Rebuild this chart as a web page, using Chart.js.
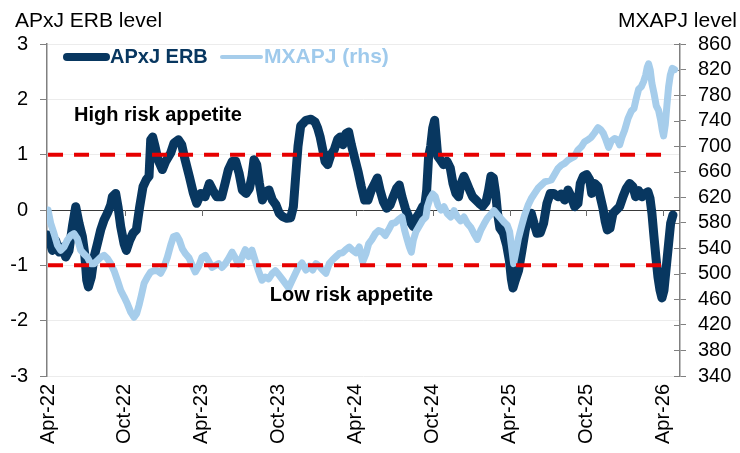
<!DOCTYPE html>
<html><head><meta charset="utf-8">
<script src="https://cdn.jsdelivr.net/npm/chart.js@4/dist/chart.umd.min.js"></script>
<style>html,body{margin:0;padding:0;background:#fff;}#wrap{width:740px;height:453px;position:relative;}</style>
</head><body><div id="wrap"><canvas id="c" width="740" height="453"></canvas></div>
<script>
// x positions are months since April 2022
const xTickLabels = ['Apr-22','Oct-22','Apr-23','Oct-23','Apr-24','Oct-24','Apr-25','Oct-25','Apr-26'];
const xTickMonths = [0,6,12,18,24,30,36,42,48];

const erbMonths = [0.00,0.34,0.60,0.86,1.12,1.38,1.64,1.90,2.16,2.42,2.68,2.86,3.02,3.15,3.38,3.59,3.85,4.11,4.37,4.63,4.89,5.02,5.28,5.46,5.67,5.93,6.11,6.37,6.63,6.89,7.15,7.41,7.67,7.88,8.01,8.16,8.35,8.58,8.92,9.18,9.57,9.83,10.17,10.43,10.69,11.02,11.34,11.60,11.92,12.25,12.59,12.85,13.16,13.55,13.81,14.07,14.38,14.64,14.90,15.16,15.45,15.71,15.91,16.07,16.28,16.49,16.72,16.98,17.24,17.50,17.79,18.04,18.30,18.62,18.93,19.14,19.32,19.50,19.71,20.12,20.51,20.83,21.03,21.22,21.43,21.61,21.82,22.07,22.33,22.60,22.80,23.01,23.24,23.45,23.66,23.92,24.18,24.44,24.70,24.96,25.22,25.48,25.69,25.90,26.16,26.42,26.68,26.93,27.19,27.40,27.61,27.87,28.13,28.33,28.50,28.70,28.96,29.22,29.40,29.54,29.69,29.85,30.01,30.16,30.27,30.40,30.60,30.86,31.12,31.38,31.59,31.82,32.03,32.23,32.44,32.68,32.89,33.12,33.38,33.64,33.91,34.17,34.37,34.55,34.74,34.92,35.07,35.25,35.52,35.78,35.99,36.14,36.27,36.45,36.71,36.97,37.23,37.49,37.70,37.91,38.14,38.40,38.66,38.92,39.18,39.44,39.78,40.04,40.30,40.56,40.82,41.08,41.34,41.52,41.76,42.02,42.25,42.41,42.64,42.90,43.11,43.29,43.47,43.63,43.84,44.07,44.33,44.59,44.85,45.11,45.37,45.63,45.84,46.07,46.33,46.59,46.80,46.96,47.11,47.27,47.42,47.58,47.74,47.89,48.05,48.23,48.41,48.57,48.75];
const erbValues = [-0.45,-0.73,-0.55,-0.76,-0.67,-0.85,-0.73,-0.30,0.06,-0.24,-0.48,-0.79,-1.27,-1.39,-1.21,-0.85,-0.61,-0.36,-0.18,-0.06,0.09,0.24,0.30,0.06,-0.30,-0.61,-0.73,-0.55,-0.42,-0.36,0.06,0.42,0.55,0.61,1.27,1.32,1.15,0.91,0.73,0.88,1.03,1.21,1.27,1.18,0.91,0.61,0.30,0.12,0.30,0.24,0.48,0.36,0.24,0.24,0.48,0.73,0.88,0.88,0.67,0.36,0.30,0.39,0.61,0.91,0.82,0.48,0.18,0.33,0.36,0.18,0.09,-0.06,-0.12,-0.15,-0.14,0.06,0.61,1.15,1.52,1.62,1.64,1.59,1.48,1.33,1.09,0.88,0.82,1.00,1.09,1.28,1.32,1.18,1.38,1.41,1.18,0.94,0.70,0.42,0.18,0.18,0.36,0.48,0.58,0.36,0.15,0.03,0.09,0.24,0.39,0.45,0.24,0.03,-0.12,-0.24,-0.30,-0.15,-0.06,0.06,0.10,0.36,0.97,1.15,1.48,1.62,1.33,0.97,0.91,0.82,0.88,0.76,0.48,0.30,0.24,0.48,0.61,0.48,0.36,0.24,0.18,0.12,0.07,0.15,0.36,0.61,0.58,0.30,-0.06,-0.33,-0.42,-0.64,-0.91,-1.24,-1.41,-1.27,-1.09,-0.73,-0.36,-0.12,-0.06,-0.24,-0.42,-0.41,-0.24,0.12,0.30,0.30,0.24,0.29,0.18,0.36,0.24,0.06,0.12,0.48,0.61,0.64,0.55,0.30,0.48,0.42,0.21,0.03,-0.21,-0.36,-0.33,-0.06,0.00,0.06,0.24,0.39,0.48,0.42,0.24,0.35,0.24,0.30,0.33,0.21,-0.06,-0.48,-0.85,-1.21,-1.45,-1.59,-1.45,-1.03,-0.61,-0.24,-0.09];

const mxMonths = [0.00,0.21,0.47,0.73,0.99,1.25,1.51,1.77,2.03,2.29,2.55,2.81,3.07,3.33,3.59,3.85,4.11,4.37,4.63,4.89,5.15,5.41,5.67,5.93,6.19,6.45,6.71,6.92,7.10,7.28,7.49,7.75,8.01,8.27,8.53,8.79,9.05,9.31,9.57,9.78,10.04,10.24,10.48,10.74,11.00,11.26,11.49,11.75,12.01,12.27,12.53,12.79,13.05,13.31,13.57,13.83,14.09,14.36,14.61,14.87,15.13,15.39,15.65,15.91,16.17,16.43,16.69,16.95,17.21,17.47,17.73,17.99,18.25,18.51,18.77,19.03,19.29,19.55,19.81,20.12,20.38,20.64,20.90,21.16,21.42,21.68,21.94,22.20,22.46,22.72,22.98,23.24,23.50,23.76,24.02,24.28,24.55,24.81,25.01,25.27,25.53,25.79,26.05,26.31,26.57,26.83,27.09,27.35,27.61,27.82,28.00,28.19,28.34,28.50,28.70,28.96,29.22,29.48,29.59,29.80,30.01,30.21,30.42,30.66,30.89,31.15,31.41,31.67,31.93,32.19,32.45,32.71,32.97,33.23,33.49,33.75,34.01,34.27,34.53,34.79,35.05,35.31,35.57,35.83,36.01,36.16,36.32,36.48,36.69,36.92,37.18,37.44,37.70,37.96,38.22,38.48,38.74,39.26,39.52,39.78,40.04,40.30,40.56,40.82,41.08,41.34,41.60,41.86,42.12,42.38,42.64,42.90,43.11,43.32,43.52,43.73,43.94,44.20,44.41,44.59,44.77,44.98,45.24,45.50,45.71,45.89,46.07,46.28,46.46,46.62,46.75,46.85,46.98,47.11,47.27,47.45,47.63,47.79,47.92,48.02,48.15,48.28,48.41,48.54,48.70,48.88];
const mxValues = [600,579,563,545,537,542,553,560,563,555,537,531,526,516,516,521,526,529,524,516,505,490,474,464,453,440,432,438,451,466,485,495,503,505,505,501,511,526,545,558,560,553,539,531,525,513,503,512,526,529,520,510,513,516,510,516,524,534,525,515,526,538,527,537,520,504,490,495,492,500,505,499,492,485,478,489,500,511,517,506,512,506,516,512,506,501,516,522,527,532,533,538,542,537,533,542,519,532,547,554,563,568,566,560,569,579,580,585,589,568,555,542,534,553,566,575,584,589,605,618,625,621,607,600,605,594,589,599,589,583,589,579,573,563,554,568,578,587,593,599,593,587,581,576,566,542,516,532,555,573,592,607,618,626,634,639,644,647,656,665,670,673,678,681,684,694,699,707,710,714,721,729,726,720,710,698,708,712,710,702,714,725,743,755,759,775,789,793,801,811,824,829,819,798,783,763,756,741,725,716,733,764,793,811,822,820];

const riskLevels = [1, -1];
const leftTicks = {min:-3, max:3, step:1};
const rightTicks = {min:340, max:860, step:40};

const FONT = "'Liberation Sans', Arial, Helvetica, sans-serif";
const NAVY = '#083760', LIGHT = '#a6cdeb', RED = '#e60000';

const pts = (xs, ys) => xs.map((x,i)=>({x:x, y:ys[i]}));
const bandData = v => [{x:xTickMonths[0], y:v},{x:xTickMonths[xTickMonths.length-1], y:v}];

const decor = {
  id:'decor',
  beforeDatasetsDraw(chart){
    const {ctx, chartArea:a, scales} = chart;
    const y0 = scales.y.getPixelForValue(0);
    ctx.save();
    ctx.strokeStyle = '#3a3a3a'; ctx.lineWidth = 1;
    ctx.beginPath(); ctx.moveTo(a.left, Math.round(y0)+0.5); ctx.lineTo(a.right, Math.round(y0)+0.5); ctx.stroke();
    ctx.strokeStyle = '#6a6a6a';
    xTickMonths.forEach(m=>{
      const x = Math.round(scales.x.getPixelForValue(m))+0.5;
      ctx.beginPath(); ctx.moveTo(x, y0); ctx.lineTo(x, y0+6); ctx.stroke();
    });
    ctx.strokeStyle = '#808080';
    scales.y2.ticks.forEach(t=>{
      const y = Math.round(scales.y2.getPixelForValue(t.value))+0.5;
      ctx.beginPath(); ctx.moveTo(a.right-6, y); ctx.lineTo(a.right, y); ctx.stroke();
    });
    ctx.restore();
  },
  afterDraw(chart){
    const {ctx, scales} = chart;
    ctx.save();
    ctx.fillStyle = '#000';
    ctx.font = "21px " + FONT;
    ctx.textBaseline = 'alphabetic';
    ctx.textAlign = 'left'; ctx.fillText('APxJ ERB level', 15, 27);
    ctx.textAlign = 'right'; ctx.fillText('MXAPJ level', 737, 27);
    // legend
    ctx.lineCap = 'round';
    ctx.strokeStyle = NAVY; ctx.lineWidth = 8;
    ctx.beginPath(); ctx.moveTo(67, 57); ctx.lineTo(106, 57); ctx.stroke();
    ctx.strokeStyle = LIGHT; ctx.lineWidth = 4;
    ctx.beginPath(); ctx.moveTo(222, 57); ctx.lineTo(261, 57); ctx.stroke();
    ctx.textAlign = 'left'; ctx.textBaseline = 'middle';
    ctx.font = "bold 20px " + FONT;
    ctx.fillStyle = NAVY; ctx.fillText('APxJ ERB', 110, 57);
    ctx.font = "bold 21px " + FONT;
    ctx.fillStyle = '#9fcaec'; ctx.fillText('MXAPJ (rhs)', 264, 57);
    // annotations
    ctx.fillStyle = '#000'; ctx.font = "bold 20px " + FONT;
    ctx.fillText('High risk appetite', scales.x.getPixelForValue(2.03), scales.y.getPixelForValue(1.70));
    ctx.fillText('Low risk appetite', scales.x.getPixelForValue(17.3), scales.y.getPixelForValue(-1.55));
    ctx.restore();
  }
};

const lineStyle = {pointRadius:0, tension:0, fill:false, borderJoinStyle:'round', borderCapStyle:'round'};

new Chart(document.getElementById('c').getContext('2d'), {
  type:'line',
  data:{datasets:[
    Object.assign({label:'High risk', data:bandData(riskLevels[0]), yAxisID:'y', borderColor:RED, borderWidth:4, borderDash:[15,11]}, lineStyle, {borderCapStyle:'butt'}),
    Object.assign({label:'Low risk', data:bandData(riskLevels[1]), yAxisID:'y', borderColor:RED, borderWidth:4, borderDash:[15,11]}, lineStyle, {borderCapStyle:'butt'}),
    Object.assign({label:'MXAPJ (rhs)', data:pts(mxMonths, mxValues), yAxisID:'y2', borderColor:LIGHT, borderWidth:7}, lineStyle),
    Object.assign({label:'APxJ ERB', data:pts(erbMonths, erbValues), yAxisID:'y', borderColor:NAVY, borderWidth:9}, lineStyle)
  ]},
  options:{
    responsive:false, animation:false, devicePixelRatio:1,
    layout:{padding:{top:44, left:0, right:0, bottom:0}},
    plugins:{legend:{display:false}, tooltip:{enabled:false}},
    scales:{
      x:{type:'linear', min:-0.08, max:49.3,
        afterBuildTicks: s => { s.ticks = xTickMonths.map(v=>({value:v})); },
        ticks:{autoSkip:false, maxRotation:90, minRotation:90, padding:8, color:'#000', font:{family:FONT, size:20},
          callback:(v)=> xTickLabels[xTickMonths.indexOf(v)]},
        grid:{display:false, drawTicks:false}, border:{display:false},
        afterFit: s => { s.height = 77; }},
      y:{position:'left', min:leftTicks.min, max:leftTicks.max,
        ticks:{stepSize:leftTicks.step, autoSkip:false, padding:12, color:'#000', font:{family:FONT, size:20}},
        grid:{color:'#ececec', lineWidth:1, tickColor:'#808080', tickLength:7},
        border:{color:'#808080', width:1.5},
        afterFit: s => { s.width = 47; }},
      y2:{position:'right', min:rightTicks.min, max:rightTicks.max,
        ticks:{stepSize:rightTicks.step, autoSkip:false, padding:12, color:'#000', font:{family:FONT, size:20}},
        grid:{drawOnChartArea:false, tickColor:'#808080', tickLength:6},
        border:{color:'#808080', width:1.5},
        afterFit: s => { s.width = 60; }}
    }
  },
  plugins:[decor]
});
</script></body></html>
